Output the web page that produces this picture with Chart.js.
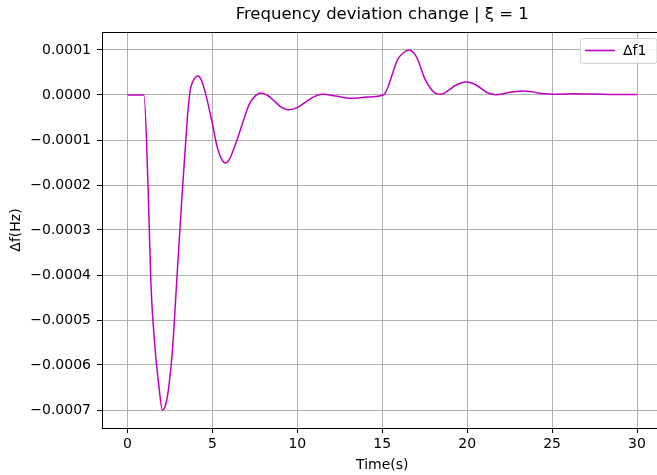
<!DOCTYPE html>
<html>
<head>
<meta charset="utf-8">
<script src="https://cdn.jsdelivr.net/npm/chart.js@4.4.1/dist/chart.umd.min.js"></script>
<style>
  html, body { margin: 0; padding: 0; background: #fff; overflow: hidden; width: 657px; height: 475px; }
  canvas { display: block; }
</style>
</head>
<body>
<canvas id="chart" width="680" height="475"></canvas>
<script>
// values
const time = [0, 0.5, 0.97, 1.22, 1.38, 1.63, 1.83, 2.06, 2.27, 2.46, 2.65, 2.89, 3.2, 3.4, 3.55, 3.7,
  3.85, 4.14, 4.35, 4.6, 4.95, 5.3, 5.55, 5.76, 5.95, 6.1, 6.45, 6.8, 7.15, 7.5, 7.86, 8.26, 8.67,
  9.07, 9.47, 9.98, 10.49, 11.0, 11.5, 12.35, 13.2, 14.1, 15.05, 15.3, 15.52, 15.91, 16.25, 16.56,
  16.85, 17.09, 17.48, 17.75, 17.97, 18.2, 18.47, 18.85, 19.25, 19.6, 19.94, 20.3, 20.62, 21.2,
  21.45, 21.7, 22.1, 22.5, 22.9, 23.28, 23.7, 24.1, 24.5, 24.95, 26.3, 27.5, 28.8, 30];
const df1 = [0, 0, 0, -0.000213, -0.00042, -0.000566, -0.00064, -0.0007, -0.000685, -0.00064,
  -0.000566, -0.00042, -0.00023, -0.00012, -0.00004, 0.000012, 0.00003, 0.000042, 0.000033,
  0.000003, -0.000055, -0.000118, -0.000143, -0.000151, -0.000146, -0.000135, -0.0001, -0.00006,
  -0.000022, -0.000003, 0.0000044, -0.0000011, -0.0000143, -0.0000276, -0.000033, -0.000028,
  -0.0000157, -0.0000037, 0.0000015, -0.000003, -0.0000074, -0.0000045, 0, 0.000014, 0.000038,
  0.000079, 0.000094, 0.0001, 0.000094, 0.000079, 0.000038, 0.00002, 0.0000089, 0.000003, 0.0000015,
  0.000009, 0.00002, 0.000026, 0.0000288, 0.000026, 0.00002, 0.000005, 0.000002, 0.0000007,
  0.0000025, 0.000006, 0.000008, 0.0000089, 0.000008, 0.000005, 0.000003, 0.0000015, 0.000003,
  0.000002, 0.000001, 0.000001];
const xTicks = [0, 5, 10, 15, 20, 25, 30];
const yTicks = [-0.0007, -0.0006, -0.0005, -0.0004, -0.0003, -0.0002, -0.0001, 0, 0.0001];

const chartTitle = 'Frequency deviation change | \u03BE = 1';
const xLabel = 'Time(s)';
const yLabel = '\u0394f(Hz)';
const seriesName = '\u0394f1';
const lineColor = '#bf00bf';
const font = '"DejaVu Sans", sans-serif';

function fmtY(v) {
  if (Math.abs(v) < 1e-12) return '0.0000';
  return (v < 0 ? '\u2212' : '') + Math.abs(v).toFixed(4);
}

// titles, top spine and legend, drawn like matplotlib does
const decor = {
  id: 'decor',
  afterDraw(chart) {
    const ctx = chart.ctx;
    const a = chart.chartArea;
    ctx.save();
    // top spine
    ctx.strokeStyle = '#000';
    ctx.lineWidth = 1;
    ctx.beginPath();
    ctx.moveTo(a.left, a.top + 0.5);
    ctx.lineTo(a.right, a.top + 0.5);
    ctx.stroke();

    ctx.fillStyle = '#000';
    ctx.textAlign = 'center';
    ctx.textBaseline = 'middle';
    ctx.font = '16.5px ' + font;
    ctx.fillText(chartTitle, (a.left + a.right) / 2, 15);

    ctx.font = '14px ' + font;
    ctx.fillText(xLabel, (a.left + a.right) / 2, 465);

    ctx.save();
    ctx.translate(16, (a.top + a.bottom) / 2);
    ctx.rotate(-Math.PI / 2);
    ctx.fillText(yLabel, 0, 0);
    ctx.restore();

    // legend box
    const bx = 580.5, by = 38.5, bw = 76.5, bh = 25;
    ctx.fillStyle = 'rgba(255,255,255,0.8)';
    ctx.strokeStyle = '#d0d0d0';
    ctx.lineWidth = 1;
    ctx.beginPath();
    ctx.roundRect(bx, by, bw, bh, 3);
    ctx.fill();
    ctx.stroke();
    ctx.strokeStyle = lineColor;
    ctx.lineWidth = 1.5;
    ctx.beginPath();
    ctx.moveTo(585, 50.5);
    ctx.lineTo(615, 50.5);
    ctx.stroke();
    ctx.fillStyle = '#000';
    ctx.textAlign = 'left';
    ctx.font = '14px ' + font;
    ctx.fillText(seriesName, 623, 51);
    ctx.restore();
  }
};

new Chart(document.getElementById('chart'), {
  type: 'line',
  data: {
    datasets: [{
      label: seriesName,
      data: time.map((t, i) => ({ x: t, y: df1[i] })),
      borderColor: lineColor,
      borderWidth: 1.5,
      pointRadius: 0,
      cubicInterpolationMode: 'monotone',
      fill: false
    }]
  },
  options: {
    responsive: false,
    animation: false,
    devicePixelRatio: 1,
    layout: { padding: { left: 0, top: 32, right: 17.5, bottom: 0 } },
    plugins: { legend: { display: false }, title: { display: false }, tooltip: { enabled: false } },
    scales: {
      x: {
        type: 'linear',
        min: -1.5,
        max: 31.5,
        afterBuildTicks: s => { s.ticks = xTicks.map(v => ({ value: v })); },
        afterFit: s => { s.height = 47; },
        grid: { color: '#b0b0b0', lineWidth: 1, tickColor: '#000', tickLength: 5, drawOnChartArea: true },
        border: { color: '#000', width: 1 },
        ticks: { color: '#000', font: { family: font, size: 14 }, padding: 3, maxRotation: 0,
          callback: v => String(v) }
      },
      y: {
        type: 'linear',
        min: -0.00074,
        max: 0.00014,
        afterBuildTicks: s => { s.ticks = yTicks.map(v => ({ value: v })); },
        afterFit: s => { s.width = 102; },
        grid: { color: '#b0b0b0', lineWidth: 1, tickColor: '#000', tickLength: 5 },
        border: { color: '#000', width: 1 },
        ticks: { color: '#000', font: { family: font, size: 14 }, padding: 6, callback: v => fmtY(v) }
      }
    }
  },
  plugins: [decor]
});
</script>
</body>
</html>
